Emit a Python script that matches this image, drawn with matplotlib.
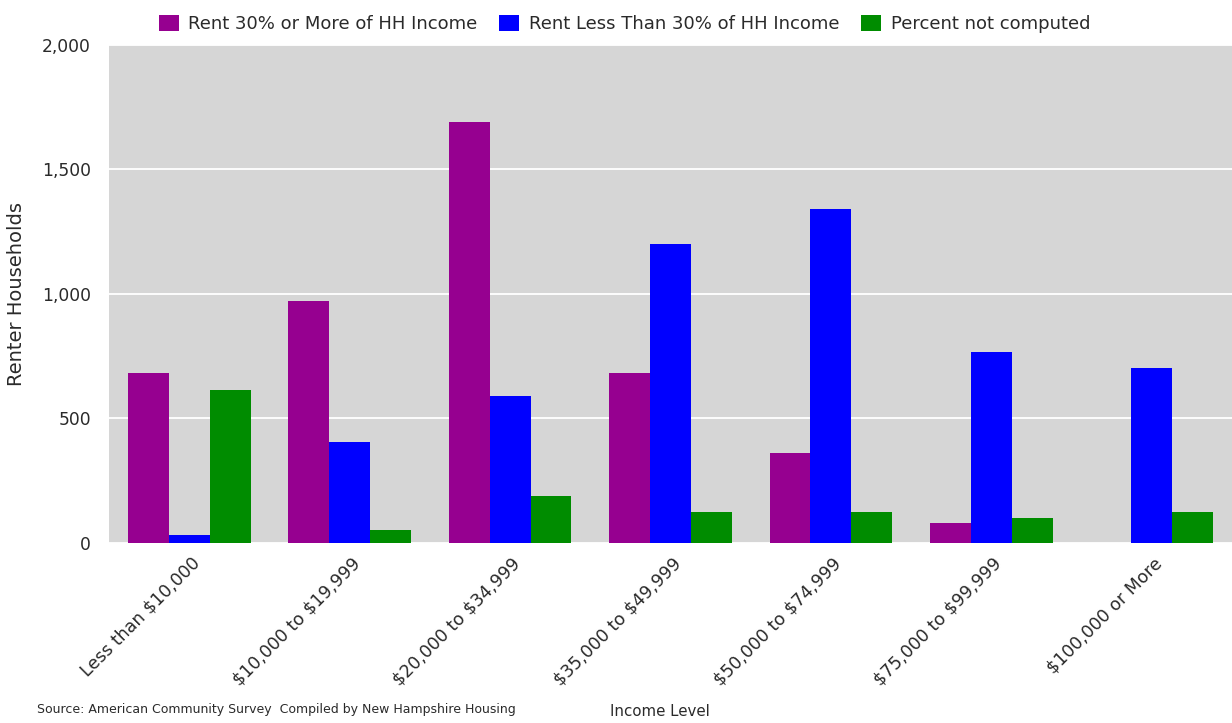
import matplotlib
matplotlib.use("Agg")
import matplotlib.pyplot as plt
import matplotlib.transforms as mtransforms
import numpy as np

plt.rcParams['text.parse_math'] = False
plt.rcParams['font.family'] = ['DejaVu Sans']

categories = ["Less than $10,000", "$10,000 to $19,999", "$20,000 to $34,999",
              "$35,000 to $49,999", "$50,000 to $74,999", "$75,000 to $99,999",
              "$100,000 or More"]
rent_30_more = [683, 972, 1691, 683, 361, 80, 0]
rent_less_30 = [32, 406, 590, 1200, 1341, 767, 703]
not_computed = [614, 52, 189, 124, 124, 100, 124]
series_names = ["Rent 30% or More of HH Income", "Rent Less Than 30% of HH Income",
                "Percent not computed"]
yticks = [0, 500, 1000, 1500, 2000]
ytick_labels = ["0", "500", "1,000", "1,500", "2,000"]

colors = ['#960090', '#0000ff', '#008c00']
txt = '#2a2a2a'

fig = plt.figure(figsize=(12.32, 7.23), dpi=100)
ax = fig.add_axes([0.0885, 0.249, 0.9115, 0.6888])
ax.set_facecolor('#d6d6d6')

x = np.arange(len(categories))
w = 0.255
handles = []
for i, (vals, name) in enumerate(zip([rent_30_more, rent_less_30, not_computed], series_names)):
    b = ax.bar(x + (i - 1) * w, vals, width=w, color=colors[i], label=name, zorder=3)
    handles.append(b)

ax.set_xlim(-0.5, len(categories) - 0.5)
ax.set_ylim(0, 2000)
ax.set_yticks(yticks)
ax.set_yticklabels(ytick_labels)
ax.yaxis.grid(True, color='white', linewidth=1.3, zorder=1)
ax.set_axisbelow(True)
for s in ax.spines.values():
    s.set_visible(False)
ax.tick_params(axis='both', length=0, colors=txt, labelsize=12.3)
ax.tick_params(axis='y', pad=13)
ax.set_xticks(x)
ax.set_xticklabels(categories, rotation=45, ha='right', va='top',
                   rotation_mode='anchor', color=txt, fontsize=12.5)
ax.tick_params(axis='x', pad=8)
offset = mtransforms.ScaledTranslation(1 / 72, 0, fig.dpi_scale_trans)
for t in ax.get_xticklabels():
    t.set_transform(t.get_transform() + offset)

ax.set_ylabel("Renter Households", fontsize=14, color=txt)
ax.yaxis.set_label_coords(-0.0735, 0.5)
fig.text(0.536, 0.006, "Income Level", ha='center', va='bottom', fontsize=10.8, color=txt)
fig.text(0.030, 0.010, "Source: American Community Survey  Compiled by New Hampshire Housing",
         ha='left', va='bottom', fontsize=9, color=txt)

fig.legend(handles=handles, labels=series_names, loc='center', bbox_to_anchor=(0.507, 0.967),
           ncol=3, frameon=False, fontsize=13, handlelength=1.1, handleheight=1.05,
           handletextpad=0.55, columnspacing=1.2, labelcolor=txt)

fig.savefig("out.png", dpi=100, facecolor='white')
